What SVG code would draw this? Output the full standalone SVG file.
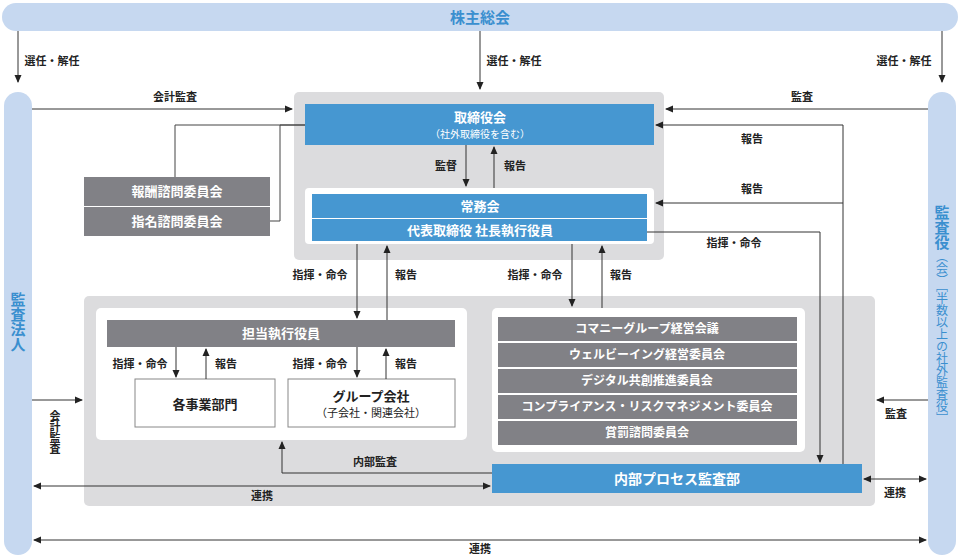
<svg xmlns="http://www.w3.org/2000/svg" width="960" height="560" viewBox="0 0 960 560">
<defs>
<marker id="a" markerWidth="8" markerHeight="8" refX="7" refY="4" orient="auto-start-reverse" markerUnits="userSpaceOnUse"><path d="M0,0.5 L8,4 L0,7.5z" fill="#222"/></marker>
<style>
text{font-family:"Noto Sans CJK JP","Noto Sans",sans-serif;}
.pl{fill:#c6d8f0}
.bl{fill:#4697d1}
.gr{fill:#818186}
.wt{fill:#fff;font-weight:bold;font-size:13px;text-anchor:middle}
.lb{fill:#222;font-size:11px;text-anchor:middle;font-weight:bold}
.ln{fill:none;stroke:#444;stroke-width:1}
.ar{fill:none;stroke:#333;stroke-width:1;marker-end:url(#a)}
.dar{fill:none;stroke:#333;stroke-width:1;marker-end:url(#a);marker-start:url(#a)}
.bt{fill:#3a8fcf;font-weight:bold;font-size:15px;text-anchor:middle}
</style>
</defs>
<rect width="960" height="560" fill="#fff"/>
<g id="shareholders"><rect class="pl" x="2" y="3" width="956" height="28" rx="14"/><text class="bt" x="480" y="23">株主総会</text></g>
<g id="auditor"><rect class="pl" x="4" y="92" width="28" height="463" rx="14"/><text class="bt" x="18" y="292" style="writing-mode:vertical-rl;text-anchor:start">監査法人</text></g>
<g id="kansayaku"><rect class="pl" x="928" y="92" width="28" height="463" rx="14"/><text class="bt" x="942" y="205" style="writing-mode:vertical-rl;text-anchor:start">監査役<tspan font-size="12" font-weight="normal">（会）［半数以上の社外監査役］</tspan></text></g>
<g id="boardArea"><rect x="294" y="92" width="370" height="168" rx="5" fill="#dcdcde"/></g>
<g id="board"><rect class="bl" x="305" y="104" width="349" height="41"/><text class="wt" x="480" y="122">取締役会</text><text class="wt" x="480" y="138" style="font-size:10px;font-weight:normal">（社外取締役を含む）</text></g>
<g id="joumu"><rect x="305" y="188" width="349" height="56" rx="4" fill="#fff"/><rect class="bl" x="312" y="194" width="335" height="24"/><rect class="bl" x="312" y="219" width="335" height="22"/><text class="wt" x="480" y="211">常務会</text><text class="wt" x="480" y="235">代表取締役 社長執行役員</text></g>
<g id="houshu"><rect class="gr" x="84" y="177" width="186" height="29"/><text class="wt" x="177" y="196">報酬諮問委員会</text></g>
<g id="shimei"><rect class="gr" x="84" y="207" width="186" height="29"/><text class="wt" x="177" y="226">指名諮問委員会</text></g>
<g id="execArea"><rect x="84" y="296" width="791" height="210" rx="5" fill="#dcdcde"/><rect x="96" y="308" width="371" height="132" rx="5" fill="#fff"/><rect x="492" y="308" width="313" height="144" rx="5" fill="#fff"/></g>
<g id="tantou"><rect class="gr" x="107" y="320" width="348" height="27"/><text class="wt" x="281" y="338">担当執行役員</text></g>
<g id="jigyou"><rect x="135" y="379" width="140" height="48" fill="#fff" stroke="#888"/><text class="lb" x="205" y="409" style="font-size:13px">各事業部門</text></g>
<g id="group"><rect x="288" y="379" width="167" height="48" fill="#fff" stroke="#888"/><text class="lb" x="371" y="401" style="font-size:13px">グループ会社</text><text class="lb" x="371" y="417" style="font-weight:normal;font-size:11px">（子会社・関連会社）</text></g>
<g id="committees">
<rect class="gr" x="498" y="317" width="299" height="24"/><text class="wt" x="647" y="333" style="font-size:12px">コマニーグループ経営会議</text>
<rect class="gr" x="498" y="343" width="299" height="24"/><text class="wt" x="647" y="359" style="font-size:12px">ウェルビーイング経営委員会</text>
<rect class="gr" x="498" y="369" width="299" height="24"/><text class="wt" x="647" y="385" style="font-size:12px">デジタル共創推進委員会</text>
<rect class="gr" x="498" y="395" width="299" height="24"/><text class="wt" x="647" y="411" style="font-size:12px">コンプライアンス・リスクマネジメント委員会</text>
<rect class="gr" x="498" y="421" width="299" height="24"/><text class="wt" x="647" y="437" style="font-size:12px">賞罰諮問委員会</text>
</g>
<g id="internal"><rect class="bl" x="492" y="464" width="370" height="29"/><text class="wt" x="677" y="484" style="font-size:14px">内部プロセス監査部</text></g>
<g id="connectors">
<path class="ar" d="M18,31 V82"/><text class="lb" x="52" y="65">選任・解任</text>
<path class="ar" d="M480,31 V89"/><text class="lb" x="514" y="65">選任・解任</text>
<path class="ar" d="M942,31 V82"/><text class="lb" x="904" y="65">選任・解任</text>
<path class="ar" d="M32,109 H292"/><text class="lb" x="175" y="101">会計監査</text>
<path class="ar" d="M928,109 H666"/><text class="lb" x="802" y="101">監査</text>
<path class="ln" d="M305,125 H175 V177"/><path class="ln" d="M305,125 H280 V221 H270"/>
<path class="ar" d="M466,145 V186"/><text class="lb" x="446" y="170">監督</text>
<path class="ar" d="M494,188 V147"/><text class="lb" x="515" y="170">報告</text>
<path class="ar" d="M843,464 V125 H656"/><text class="lb" x="752" y="143">報告</text>
<path class="ar" d="M843,203 H656"/><text class="lb" x="752" y="193">報告</text>
<path class="ar" d="M647,232 H820 V462"/><text class="lb" x="734" y="247">指揮・命令</text>
<path class="ar" d="M357,244 V318"/><text class="lb" x="320" y="279">指揮・命令</text>
<path class="ar" d="M387,320 V246"/><text class="lb" x="406" y="279">報告</text>
<path class="ar" d="M572,244 V306"/><text class="lb" x="535" y="279">指揮・命令</text>
<path class="ar" d="M602,308 V246"/><text class="lb" x="621" y="279">報告</text>
<path class="ar" d="M176,347 V377"/><text class="lb" x="140" y="368">指揮・命令</text>
<path class="ar" d="M206,379 V349"/><text class="lb" x="226" y="368">報告</text>
<path class="ar" d="M357,347 V377"/><text class="lb" x="320" y="368">指揮・命令</text>
<path class="ar" d="M386,379 V349"/><text class="lb" x="406" y="368">報告</text>
<path class="ar" d="M32,400 H82"/><text class="lb" x="55" y="410" style="writing-mode:vertical-rl;text-anchor:start">会計監査</text>
<path class="ar" d="M928,400 H877"/><text class="lb" x="896" y="418">監査</text>
<path class="ar" d="M492,473 H282 V442"/><text class="lb" x="375" y="466">内部監査</text>
<path class="dar" d="M34,486 H490"/><text class="lb" x="262" y="500">連携</text>
<path class="dar" d="M864,479 H926"/><text class="lb" x="895" y="497">連携</text>
<path class="dar" d="M34,540 H926"/><text class="lb" x="480" y="553">連携</text>
</g>
</svg>
